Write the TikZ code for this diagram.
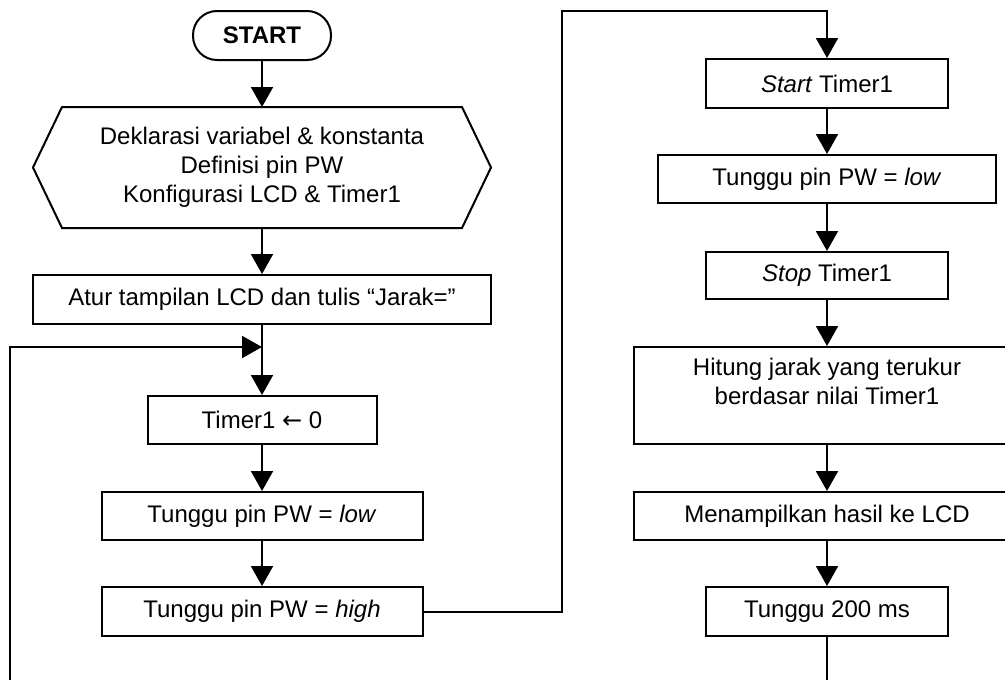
\documentclass[tikz,border=0pt]{standalone}
\usepackage{fontspec}
\setmainfont{Liberation Sans}
\newfontfamily\arrowfont{DejaVu Sans}
\usetikzlibrary{arrows.meta,positioning,calc}

\begin{document}
\begin{tikzpicture}[x=0.5pt, y=-0.5pt, line width=1pt,
  font=\fontsize{12pt}{14.5pt}\selectfont,
  proc/.style={draw, rectangle, minimum height=24pt, align=center, inner sep=2pt},
  term/.style={draw, rectangle, rounded corners=12pt, minimum width=69pt, minimum height=24.5pt,
    font=\fontsize{12pt}{14.5pt}\selectfont\bfseries},
  prep/.style={rectangle, minimum width=229pt, minimum height=60.5pt, outer sep=0pt, align=center},
  arr/.style={-{Triangle[length=10pt,width=11pt]}}]
  \clip (0,0) rectangle (1005,680);

  % left column
  \node[term] (start) at (262,35.5) {START};
  \node[prep, below=23pt of start] (decl)
    {Deklarasi variabel \& konstanta\\Definisi pin PW\\Konfigurasi LCD \& Timer1};
  \draw ($(decl.north west)+(14.5pt,0)$) -- ($(decl.north east)+(-14.5pt,0)$) -- (decl.east)
    -- ($(decl.south east)+(-14.5pt,0)$) -- ($(decl.south west)+(14.5pt,0)$) -- (decl.west) -- cycle;
  \node[proc, minimum width=229pt, minimum height=24.5pt, below=23pt of decl] (atur)
    {Atur tampilan LCD dan tulis “Jarak=”};
  \coordinate[below=11pt of atur] (join);
  \node[proc, minimum width=114.5pt, below=24pt of join] (tnol)
    {Timer1 {\arrowfont←} 0};
  \node[proc, minimum width=160.5pt, below=23pt of tnol] (tlow)
    {Tunggu pin PW = \textit{low}};
  \node[proc, minimum width=160.5pt, minimum height=24.5pt, below=22.5pt of tlow] (thigh)
    {Tunggu pin PW = \textit{high}};

  % right column
  \node[proc, minimum width=121pt, minimum height=24.5pt] (tstart) at (827,83.5)
    {\textit{Start} Timer1};
  \node[proc, minimum width=169pt, below=22.5pt of tstart] (rlow)
    {Tunggu pin PW = \textit{low}};
  \node[proc, minimum width=121pt, minimum height=23.5pt, below=23.5pt of rlow] (tstop)
    {\textit{Stop} Timer1};
  \node[proc, minimum width=193pt, minimum height=48.5pt, below=23pt of tstop] (hitung)
    {Hitung jarak yang terukur\\berdasar nilai Timer1\\ ~};
  \node[proc, minimum width=193pt, below=23pt of hitung] (tampil)
    {Menampilkan hasil ke LCD};
  \node[proc, minimum width=121pt, minimum height=24.5pt, below=22.5pt of tampil] (tunggu)
    {Tunggu 200 ms};

  \coordinate (loopend) at (10,680);
  \coordinate (bendtop) at (562,11);
  \coordinate (rend) at (tunggu.south |- loopend);

  \draw[arr] (start) -- (decl);
  \draw[arr] (decl) -- (atur);
  \draw (atur) -- (join);
  \draw[arr] (join) -- (tnol);
  \draw[arr] (tnol) -- (tlow);
  \draw[arr] (tlow) -- (thigh);
  \draw[arr] (thigh.east) -| (bendtop) -| (tstart);
  \draw[arr] (tstart) -- (rlow);
  \draw[arr] (rlow) -- (tstop);
  \draw[arr] (tstop) -- (hitung);
  \draw[arr] (hitung) -- (tampil);
  \draw[arr] (tampil) -- (tunggu);
  \draw (tunggu) -- (rend);
  \draw[arr] (loopend) |- (join);
\end{tikzpicture}
\end{document}
